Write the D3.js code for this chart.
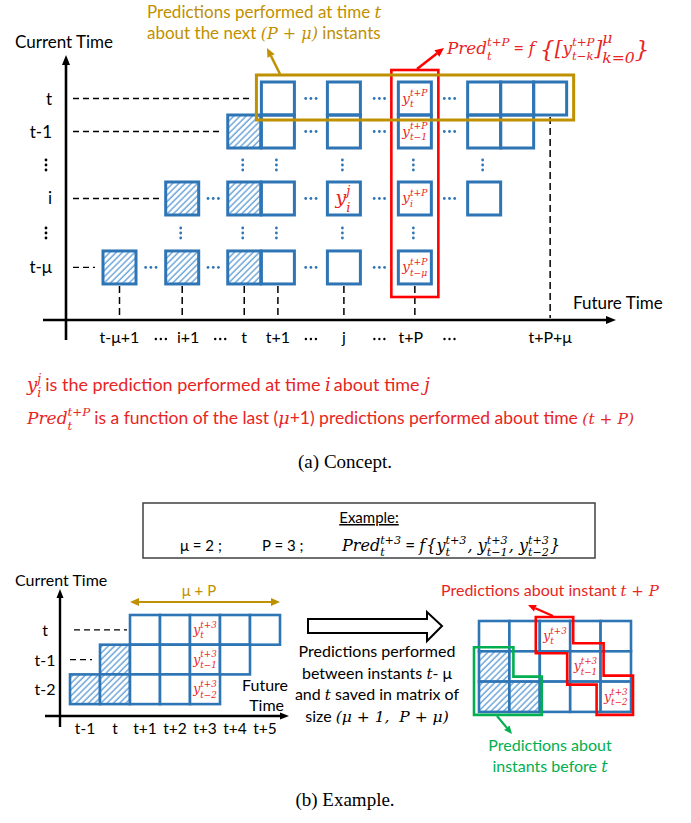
<!DOCTYPE html>
<html><head><meta charset="utf-8">
<script src="https://cdn.jsdelivr.net/npm/d3@7"></script>
<style>body{margin:0;background:#fff}</style>
</head><body>
<svg id="c" width="691" height="823"></svg>
<script>
// ================= DATA =================
// Panel (a): concept
const topRows = ["t", "t-1", "i", "t-μ"];
const topRowSlots = [0, 1, 3.03, 5.12];
const topCols = ["t-μ+1", "i+1", "t", "t+1", "j", "t+P", "c1", "c2", "c3"];
const topColSlots = [0, 1.9, 3.78, 4.8, 6.8, 8.95, 11.05, 12.05, 13.05];
const topRowCells = [
  ["t+1", "j", "t+P", "c1", "c2", "c3"],
  ["t", "t+1", "j", "t+P", "c1", "c2"],
  ["i+1", "t", "t+1", "j", "t+P", "c1"],
  ["t-μ+1", "i+1", "t", "t+1", "j", "t+P"]
];
const topLastPastCol = "t";
const topCellLabels = [
  { row: "t",   col: "t+P", sup: "t+P", sub: "t",   big: false },
  { row: "t-1", col: "t+P", sup: "t+P", sub: "t−1", big: false },
  { row: "i",   col: "j",   sup: "j",   sub: "i",   big: true },
  { row: "i",   col: "t+P", sup: "t+P", sub: "i",   big: false },
  { row: "t-μ", col: "t+P", sup: "t+P", sub: "t−μ", big: false }
];
const topTickCols = ["t-μ+1", "i+1", "t", "t+1", "j", "t+P", "c3"];
const topTickLabels = ["t-μ+1", "i+1", "t", "t+1", "j", "t+P", "t+P+μ"];
const topDashRowEnds = [252, 222, 160, 95];

// Panel (b): example
const exCols = ["t-1", "t", "t+1", "t+2", "t+3", "t+4", "t+5"];
const exRows = ["t", "t-1", "t-2"];
const exRowStart = [2, 1, 0];
const exRowLen = 5;
const exLastPast = 1;
const exTarget = "t+3";
const exSubs = ["t", "t−1", "t−2"];
const exDashEnds = [127, 92];
const middleLines = ["Predictions performed", "between instants t- μ", "and t saved in matrix of", "size (μ + 1,  P + μ)"];

// ================= STYLE =================
const SANS = "Lato, 'Open Sans', sans-serif";
const MATH = "'DejaVu Serif', 'Liberation Serif', serif";
const TIMES = "'Liberation Serif', serif";
const BLUE = "#2E75B6", HATCH = "#5B9BD5", RED = "#FF0000", TRED = "#E8251F",
      GOLD = "#BF9000", GREEN = "#00B050";

const svg = d3.select("#c");
const defs = svg.append("defs");
const pat = defs.append("pattern").attr("id", "hatch").attr("patternUnits", "userSpaceOnUse")
  .attr("width", 4.4).attr("height", 4.4).attr("patternTransform", "rotate(45)");
pat.append("rect").attr("width", 4.4).attr("height", 4.4).attr("fill", "#fff");
pat.append("line").attr("x1", 1).attr("y1", 0).attr("x2", 1).attr("y2", 4.4)
  .attr("stroke", HATCH).attr("stroke-width", 1.3);

// ---- helpers ----
function rich(parent, x, y, pieces, o) {
  const g = parent.append("g");
  let cx = 0;
  pieces.forEach(p => {
    const size = p.size || o.size;
    const fam = p.math ? MATH : (o.fam || SANS);
    const style = p.math ? "italic" : "normal";
    const col = p.color || o.color || "#000";
    if (p.t) {
      const t = g.append("text").attr("x", cx).attr("y", p.dy || 0).text(p.t)
        .attr("font-family", fam).attr("font-size", size).attr("font-style", style)
        .attr("fill", col).style("white-space", "pre");
      if (p.u) t.attr("text-decoration", "underline");
      cx += t.node().getComputedTextLength() + (p.pad || 0);
    }
    if (p.sup || p.sub) {
      const ss = size * (p.ss || 0.66);
      let w = 0;
      if (p.sup) {
        const t = g.append("text").attr("x", cx).attr("y", -size * (p.supY || 0.46)).text(p.sup)
          .attr("font-family", MATH).attr("font-style", "italic").attr("font-size", ss).attr("fill", col);
        w = Math.max(w, t.node().getComputedTextLength());
      }
      if (p.sub) {
        const t = g.append("text").attr("x", cx).attr("y", size * (p.subY || 0.34)).text(p.sub)
          .attr("font-family", MATH).attr("font-style", "italic").attr("font-size", ss).attr("fill", col);
        w = Math.max(w, t.node().getComputedTextLength());
      }
      cx += w + (p.after || 0);
    }
  });
  const a = o.anchor || "start";
  const dx = a === "middle" ? -cx / 2 : a === "end" ? -cx : 0;
  g.attr("transform", `translate(${x + dx},${y})`);
  return g;
}
function arrow(x1, y1, x2, y2, color, w, hl, hw) {
  const ang = Math.atan2(y2 - y1, x2 - x1);
  const bx = x2 - hl * Math.cos(ang), by = y2 - hl * Math.sin(ang);
  svg.append("line").attr("x1", x1).attr("y1", y1).attr("x2", bx).attr("y2", by)
    .attr("stroke", color).attr("stroke-width", w);
  const px = -Math.sin(ang) * hw / 2, py = Math.cos(ang) * hw / 2;
  svg.append("path").attr("d", `M${x2},${y2}L${bx + px},${by + py}L${bx - px},${by - py}Z`).attr("fill", color);
}
function vdots(x, y, color, gap) {
  [-1, 0, 1].forEach(k => svg.append("circle").attr("cx", x).attr("cy", y + k * gap).attr("r", 1.4).attr("fill", color));
}
function hdots(x, y, color) {
  [-1, 0, 1].forEach(k => svg.append("circle").attr("cx", x + k * 5.2).attr("cy", y).attr("r", 1.4).attr("fill", color));
}

// ================= PANEL (a) =================
const xTop = d3.scaleLinear().domain([0, 1]).range([103, 136]);
const yTop = d3.scaleLinear().domain([0, 1]).range([82, 115]);
const cw = xTop(1) - xTop(0), ch = yTop(1) - yTop(0);
const colX = c => xTop(topColSlots[topCols.indexOf(c)]);
const rowY = r => yTop(topRowSlots[topRows.indexOf(r)]);
const pastIdx = topCols.indexOf(topLastPastCol);

// axes
arrow(66, 340, 66, 55, "#000", 2.6, 10, 8);
arrow(43, 320, 616, 320, "#000", 2.6, 10, 8);
rich(svg, 15, 48, [{ t: "Current Time" }], { size: 17 });
rich(svg, 573, 309, [{ t: "Future Time" }], { size: 17 });

// row labels and dashed guides
topRows.forEach((r, i) => {
  const cy = rowY(r) + ch / 2;
  rich(svg, 52, cy + 6, [{ t: r }], { size: 17, anchor: "end" });
  svg.append("line").attr("x1", 73).attr("x2", topDashRowEnds[i]).attr("y1", cy).attr("y2", cy)
    .attr("stroke", "#000").attr("stroke-width", 1.3).attr("stroke-dasharray", "6,4");
});
// vertical ellipses for rows
for (let i = 0; i < topRows.length - 1; i++) {
  const gapTop = rowY(topRows[i]) + ch, gapBot = rowY(topRows[i + 1]);
  if (gapBot - gapTop > 10) {
    const my = (gapTop + gapBot) / 2;
    vdots(46, my, "#000", 5);
    topRowCells[i].forEach(c => {
      if (topRowCells[i + 1].includes(c)) vdots(colX(c) + cw / 2 - 1.5, my, BLUE, 5);
    });
  }
}

// drop lines to axis
topTickCols.forEach((c, k) => {
  const lowest = topRowCells.reduce((acc, cells, i) => cells.includes(c) ? i : acc, -1);
  const y0 = rowY(topRows[lowest]) + ch + 2;
  svg.append("line").attr("x1", colX(c) + cw / 2).attr("x2", colX(c) + cw / 2)
    .attr("y1", y0).attr("y2", 318)
    .attr("stroke", "#000").attr("stroke-width", 1.5).attr("stroke-dasharray", "7,4");
});
// x tick labels and dots
topTickCols.forEach((c, k) => {
  rich(svg, colX(c) + cw / 2 + (c === "i+1" ? 6 : c === "t+P" ? -4 : 0), 343, [{ t: topTickLabels[k] }], { size: 16, anchor: "middle" });
  if (k < topTickCols.length - 1) {
    const ia = topCols.indexOf(c), nb = topCols[ia + 1];
    if (topColSlots[ia + 1] - topColSlots[ia] > 1.5) {
      const gx = (colX(c) + cw + colX(nb)) / 2;
      [-1, 0, 1].forEach(q => svg.append("circle").attr("cx", gx + q * 5 + (k === 0 ? 10 : k === 1 ? 7 : 0)).attr("cy", 339).attr("r", 1.2).attr("fill", "#000"));
    }
  }
});

// cells
topRowCells.forEach((cells, i) => {
  const y = rowY(topRows[i]);
  cells.forEach((c, j) => {
    const x = colX(c);
    svg.append("rect").attr("x", x).attr("y", y).attr("width", cw).attr("height", ch)
      .attr("fill", topCols.indexOf(c) <= pastIdx ? "url(#hatch)" : "#fff");
    if (j < cells.length - 1) {
      const n = cells[j + 1];
      const a = topCols.indexOf(c);
      if (colX(n) - (x + cw) > 10) hdots((x + cw + colX(topCols[a + 1])) / 2, y + ch / 2, BLUE);
    }
  });
});
topRowCells.forEach((cells, i) => {
  const y = rowY(topRows[i]);
  cells.forEach(c => {
    svg.append("rect").attr("x", colX(c)).attr("y", y).attr("width", cw).attr("height", ch)
      .attr("fill", "none").attr("stroke", BLUE).attr("stroke-width", 3);
  });
});
topCellLabels.forEach(l => {
  const x = colX(l.col) + cw / 2, y = rowY(l.row) + ch / 2;
  if (l.big) rich(svg, x - 1, y + 6, [{ t: "y", math: true, sup: l.sup, sub: l.sub, ss: 0.7, supY: 0.5, subY: 0.38 }], { size: 19, color: TRED, anchor: "middle" });
  else rich(svg, x, y + 4, [{ t: "y", math: true, sup: l.sup, sub: l.sub, ss: 0.68, supY: 0.5, subY: 0.34 }], { size: 13.5, color: TRED, anchor: "middle" });
});

// red column box
const tpx = colX("t+P");
svg.append("rect").attr("x", tpx - 7).attr("y", 70).attr("width", cw + 14).attr("height", 227)
  .attr("fill", "none").attr("stroke", RED).attr("stroke-width", 2.6);
// gold row box
svg.append("rect").attr("x", colX("t+1") - 5).attr("y", 75).attr("width", colX("c3") + cw + 7 - (colX("t+1") - 5)).attr("height", 45)
  .attr("fill", "none").attr("stroke", GOLD).attr("stroke-width", 3);
arrow(280, 74, 267, 48, GOLD, 2.5, 9, 8);
arrow(417, 69, 444, 48, RED, 2.5, 9, 8);

// gold annotation
rich(svg, 147, 18, [{ t: "Predictions performed at time " }, { t: "t", math: true, size: 17 }], { size: 17, color: GOLD });
rich(svg, 147, 39, [{ t: "about the next " }, { t: "(P + μ)", math: true, size: 16 }, { t: " instants" }], { size: 17, color: GOLD });
// formula
rich(svg, 447, 54, [
  { t: "Pred", math: true, sup: "t+P", sub: "t", ss: 0.7, supY: 0.5, subY: 0.34, after: 4 },
  { t: "= ", math: false, size: 18 },
  { t: "f ", math: true },
  { t: "{", math: true, size: 23, dy: 3 },
  { t: "[", math: true, size: 20, dy: 1 },
  { t: "y", math: true, sup: "t+P", sub: "t−k", ss: 0.7, supY: 0.5, subY: 0.34 },
  { t: "]", math: true, size: 20, dy: 1, sup: "μ", sub: "k=0", ss: 0.78, supY: 0.55, subY: 0.45 },
  { t: "}", math: true, size: 23, dy: 3 }
], { size: 16.8, color: TRED });

// bottom notes
rich(svg, 27, 391, [
  { t: "y", math: true, sup: "j", sub: "i", ss: 0.7, after: 4 },
  { t: "is the prediction performed at time " }, { t: "i", math: true, pad: 3 },
  { t: "about time " }, { t: "j", math: true }
], { size: 18, color: TRED });
rich(svg, 27, 424, [
  { t: "Pred", math: true, sup: "t+P", sub: "t", ss: 0.7, after: 4, size: 17 },
  { t: "is a function of the last (" }, { t: "μ", math: true }, { t: "+1) predictions performed about time " },
  { t: "(t + P)", math: true, size: 15.5 }
], { size: 17.5, color: TRED });
rich(svg, 345, 468, [{ t: "(a) Concept." }], { size: 19, fam: TIMES, anchor: "middle" });

// ================= PANEL (b) =================
svg.append("rect").attr("x", 143).attr("y", 503).attr("width", 452).attr("height", 55)
  .attr("fill", "none").attr("stroke", "#404040").attr("stroke-width", 1.5);
rich(svg, 369, 523, [{ t: "Example:", u: true }], { size: 15, anchor: "middle" });
rich(svg, 180, 551, [{ t: "μ = 2 ;" }], { size: 15 });
rich(svg, 262, 551, [{ t: "P = 3 ;" }], { size: 15 });
rich(svg, 342, 551, [
  { t: "Pred", math: true, sup: "t+3", sub: "t", ss: 0.7, after: 4 },
  { t: "= ", size: 17 }, { t: "f", math: true, pad: 1 }, { t: "{" , math: true },
  { t: "y", math: true, sup: "t+3", sub: "t", ss: 0.7, after: 1 }, { t: ", ", math: true },
  { t: "y", math: true, sup: "t+3", sub: "t−1", ss: 0.7, after: 1 }, { t: ", ", math: true },
  { t: "y", math: true, sup: "t+3", sub: "t−2", ss: 0.7, after: 1 }, { t: "}", math: true }
], { size: 16, color: "#000" });

const xEx = d3.scaleLinear().domain([0, 1]).range([70, 100]);
const yEx = d3.scaleLinear().domain([0, 1]).range([615, 644.7]);
const ew = xEx(1) - xEx(0), eh = yEx(1) - yEx(0);

arrow(60, 727, 60, 589, "#000", 2.4, 9, 7);
arrow(45, 716, 289, 716, "#000", 2.4, 9, 7);
rich(svg, 15, 586, [{ t: "Current Time" }], { size: 16 });
rich(svg, 288, 691, [{ t: "Future" }], { size: 16, anchor: "end" });
rich(svg, 284, 711, [{ t: "Time" }], { size: 16, anchor: "end" });
// gold double arrow
const ga = xEx(exRowStart[0]), gb = xEx(exRowStart[0] + exRowLen);
arrow((ga + gb) / 2, 602, ga, 602, GOLD, 2, 9, 8);
arrow((ga + gb) / 2, 602, gb, 602, GOLD, 2, 9, 8);
rich(svg, (ga + gb) / 2 - 6, 596, [{ t: "μ + P" }], { size: 15, color: GOLD, anchor: "middle" });

exRows.forEach((r, i) => {
  const cy = yEx(i) + eh / 2;
  rich(svg, 45, cy + 6, [{ t: r }], { size: 16, anchor: "middle" });
  if (i < exDashEnds.length)
    svg.append("line").attr("x1", i === 0 ? 74 : 70).attr("x2", exDashEnds[i]).attr("y1", cy).attr("y2", cy)
      .attr("stroke", "#000").attr("stroke-width", 1.3).attr("stroke-dasharray", "6,4");
});
exCols.forEach((c, k) => rich(svg, xEx(k) + ew / 2, 734, [{ t: c }], { size: 15.5, anchor: "middle" }));
exRows.forEach((r, i) => {
  for (let k = 0; k < exRowLen; k++) {
    const ci = exRowStart[i] + k;
    svg.append("rect").attr("x", xEx(ci)).attr("y", yEx(i)).attr("width", ew).attr("height", eh)
      .attr("fill", ci <= exLastPast ? "url(#hatch)" : "#fff").attr("stroke", BLUE).attr("stroke-width", 2.6);
  }
});
exRows.forEach((r, i) => {
  const ci = exCols.indexOf(exTarget);
  rich(svg, xEx(ci) + ew / 2, yEx(i) + eh / 2 + 4, [{ t: "y", math: true, sup: exTarget, sub: exSubs[i], ss: 0.7, supY: 0.5, subY: 0.34 }], { size: 12.5, color: TRED, anchor: "middle" });
});

// block arrow
svg.append("path").attr("d", "M308,619L427,619L427,612L442,626L427,641L427,633L308,633Z")
  .attr("fill", "#fff").attr("stroke", "#000").attr("stroke-width", 2);
middleLines.forEach((l, i) => {
  let pieces;
  if (i === 1) pieces = [{ t: "between instants " }, { t: "t", math: true, size: 15 }, { t: "- μ" }];
  else if (i === 2) pieces = [{ t: "and " }, { t: "t", math: true, size: 15 }, { t: " saved in matrix of" }];
  else if (i === 3) pieces = [{ t: "size " }, { t: "(μ + 1,  P + μ)", math: true, size: 15.5 }];
  else pieces = [{ t: l }];
  rich(svg, 377, 657 + i * 21.5, pieces, { size: 16, anchor: "middle" });
});

// matrix
const xM = d3.scaleLinear().domain([0, 1]).range([479, 509.4]);
const yM = d3.scaleLinear().domain([0, 1]).range([621, 651.3]);
const mw = xM(1) - xM(0), mh = yM(1) - yM(0);
exRows.forEach((r, i) => {
  for (let k = 0; k < exRowLen; k++) {
    const ci = exRowStart[i] + k;
    svg.append("rect").attr("x", xM(k)).attr("y", yM(i)).attr("width", mw).attr("height", mh)
      .attr("fill", ci <= exLastPast ? "url(#hatch)" : "#fff").attr("stroke", BLUE).attr("stroke-width", 2.6);
  }
});
const tk = exRows.map((r, i) => exCols.indexOf(exTarget) - exRowStart[i]);
exRows.forEach((r, i) => {
  rich(svg, xM(tk[i]) + mw / 2, yM(i) + mh / 2 + 4, [{ t: "y", math: true, sup: exTarget, sub: exSubs[i], ss: 0.7, supY: 0.5, subY: 0.34 }], { size: 12.5, color: TRED, anchor: "middle" });
});
// red staircase
const L = k => xM(k), R = k => xM(k + 1), T = i => yM(i), B = i => yM(i + 1);
const redPts = [
  [L(tk[0]) - 4, T(0) - 4], [R(tk[0]) + 3, T(0) - 4], [R(tk[0]) + 3, T(1) - 8], [R(tk[1]) + 3, T(1) - 8],
  [R(tk[1]) + 3, T(2) - 6], [R(tk[2]) + 2, T(2) - 6], [R(tk[2]) + 2, B(2) + 3], [L(tk[2]) - 4, B(2) + 3],
  [L(tk[2]) - 4, T(2) + 3], [L(tk[1]) - 3, T(2) + 3], [L(tk[1]) - 3, T(1) + 2], [L(tk[0]) - 4, T(1) + 2]
];
svg.append("path").attr("d", d3.line()(redPts) + "Z").attr("fill", "none").attr("stroke", RED).attr("stroke-width", 2.6);
// green outline
const greenPts = [
  [L(0) - 5, T(1) - 4], [R(0) + 4, T(1) - 4], [R(0) + 4, T(2) - 5], [R(1) + 2, T(2) - 5],
  [R(1) + 2, B(2) + 3], [L(0) - 5, B(2) + 3]
];
svg.append("path").attr("d", d3.line()(greenPts) + "Z").attr("fill", "none").attr("stroke", GREEN).attr("stroke-width", 2.6);
arrow(553, 616, 528, 605, RED, 2.2, 8, 7);
arrow(497, 716, 512, 734, GREEN, 2.2, 8, 7);
rich(svg, 441, 596, [{ t: "Predictions about instant " }, { t: "t + P", math: true, size: 15 }], { size: 16, color: TRED });
rich(svg, 550, 751, [{ t: "Predictions about" }], { size: 16, color: GREEN, anchor: "middle" });
rich(svg, 550, 772, [{ t: "instants before " }, { t: "t", math: true, size: 16 }], { size: 16, color: GREEN, anchor: "middle" });
rich(svg, 345, 806, [{ t: "(b) Example." }], { size: 19, fam: TIMES, anchor: "middle" });
</script>
</body></html>
